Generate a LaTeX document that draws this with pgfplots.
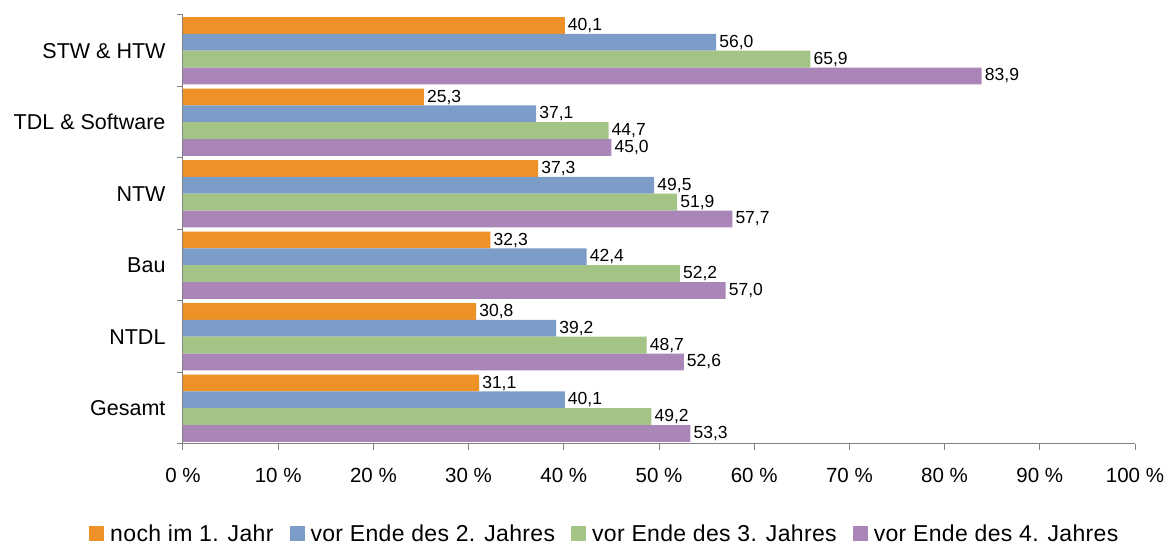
\documentclass[border=0pt]{standalone}
\usepackage{fontspec}
\setmainfont{Liberation Sans}
\usepackage{pgfplots}
\pgfplotsset{compat=1.18}
\definecolor{cOrange}{RGB}{238,145,38}
\definecolor{cBlue}{RGB}{123,157,200}
\definecolor{cGreen}{RGB}{164,196,134}
\definecolor{cPurple}{RGB}{170,133,183}
\definecolor{axgray}{RGB}{128,128,128}

% categories: 0 = Gesamt (bottom) ... 5 = STW & HTW (top)
\pgfplotstableread{
y  a     b     c     d
0  31.1  40.1  49.2  53.3
1  30.8  39.2  48.7  52.6
2  32.3  42.4  52.2  57.0
3  37.3  49.5  51.9  57.7
4  25.3  37.1  44.7  45.0
5  40.1  56.0  65.9  83.9
}\shares

\begin{document}
\begin{tikzpicture}
\begin{axis}[
  name=a,
  scale only axis,
  width=952pt, height=429pt,
  xbar, bar width=0.235,
  xmin=0, xmax=100,
  ymin=-0.5, ymax=5.5,
  axis x line*=bottom, axis y line*=left,
  axis line style={axgray, line width=1pt},
  tick style={axgray, line width=1pt},
  tick align=outside,
  major tick length=6pt,
  xtick={0,10,...,100},
  xticklabels={0 \%,10 \%,20 \%,30 \%,40 \%,50 \%,60 \%,70 \%,80 \%,90 \%,100 \%},
  xticklabel style={font=\fontsize{20.5}{24}\selectfont, yshift=-15pt},
  ytick={-0.5,0.5,...,5.5},
  yticklabels={},
  extra y ticks={0,1,2,3,4,5},
  extra y tick labels={Gesamt,NTDL,Bau,NTW,TDL \& Software,STW \& HTW},
  extra y tick style={tick style={draw=none},
    yticklabel style={font=\fontsize{21.5}{25}\selectfont, xshift=-8pt}},
  point meta=x,
  nodes near coords={\pgfmathprintnumber[fixed,fixed zerofill,precision=1,use comma,assume math mode=true]{\pgfplotspointmeta}},
  every node near coord/.append style={font=\fontsize{17.5}{20}\selectfont, anchor=west, inner sep=3pt, black},
  legend columns=4,
  legend style={draw=none, inner sep=0pt, nodes={inner sep=0pt},
    at={(rel axis cs:-0.0987,-0.2098)}, anchor=west,
    font=\fontsize{23}{27}\selectfont\addfontfeature{LetterSpace=1.5},
    /tikz/every odd column/.append style={column sep=6pt},
    /tikz/every even column/.append style={column sep=16pt}},
  legend cell align=left,
  legend image code/.code={\fill[#1] (0pt,-7.5pt) rectangle (15pt,7.5pt);},
]
\addplot[draw=none, fill=cOrange, bar shift=0.3525] table[x=a, y=y] {\shares};
\addplot[draw=none, fill=cBlue, bar shift=0.1175] table[x=b, y=y] {\shares};
\addplot[draw=none, fill=cGreen, bar shift=-0.1175] table[x=c, y=y] {\shares};
\addplot[draw=none, fill=cPurple, bar shift=-0.3525] table[x=d, y=y] {\shares};
\legend{noch im 1. Jahr, vor Ende des 2. Jahres, vor Ende des 3. Jahres, vor Ende des 4. Jahres}
\coordinate (sw) at (rel axis cs:0,0);
\coordinate (ne) at (rel axis cs:1,1);
\end{axis}
\pgfresetboundingbox
\path ([shift={(-183pt,-101pt)}]sw) rectangle ([shift={(38pt,15pt)}]ne);
\end{tikzpicture}
\end{document}
